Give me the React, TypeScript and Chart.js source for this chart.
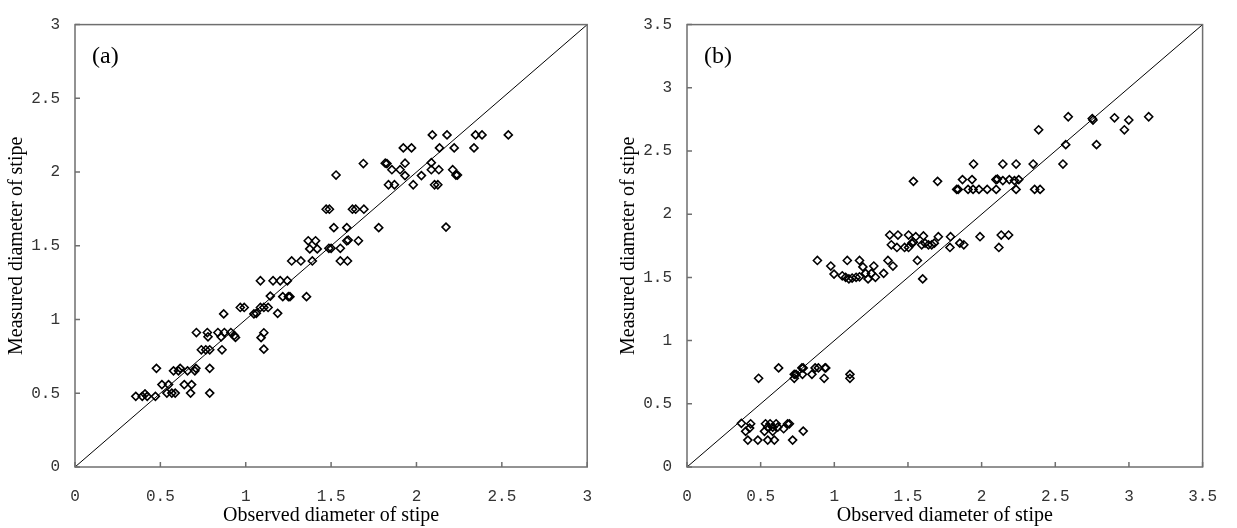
import React, { useEffect, useRef } from 'react';
import { Chart, registerables } from 'chart.js';

Chart.register(...registerables);

// Panel (a)
const observedA = [
  0.356, 0.394, 0.41, 0.423, 0.471, 0.477, 0.509, 0.548, 0.538, 0.567, 0.587, 0.577, 0.606, 0.616, 0.64, 0.659,
  0.683, 0.677, 0.702, 0.708, 0.789, 0.789, 0.711, 0.775, 0.779, 0.74, 0.766, 0.789, 0.837, 0.856, 0.875, 0.913,
  0.861, 0.933, 0.94, 0.871, 0.968, 0.991, 1.048, 1.471, 1.49, 1.625, 1.644, 1.692, 1.516, 1.592, 1.779, 1.366,
  1.409, 1.375, 1.419, 1.487, 1.5, 1.554, 1.592, 1.6, 1.66, 1.269, 1.323, 1.39, 1.554, 1.596, 1.086, 1.16,
  1.202, 1.244, 1.144, 1.217, 1.25, 1.259, 1.356, 1.062, 1.086, 1.106, 1.131, 1.187, 1.106, 1.09, 1.106, 2.093,
  2.179, 2.346, 2.384, 2.538, 1.923, 1.971, 2.135, 2.221, 2.337, 1.817, 1.827, 1.933, 2.087, 1.856, 1.904, 1.933,
  2.029, 2.087, 2.131, 2.212, 2.231, 2.24, 1.836, 1.871, 1.981, 2.106, 2.125, 2.173, 1.689, 1.529,
];
const measuredA = [
  0.479, 0.479, 0.495, 0.479, 0.479, 0.669, 0.559, 0.559, 0.501, 0.501, 0.501, 0.652, 0.652, 0.669, 0.559, 0.652,
  0.559, 0.501, 0.652, 0.669, 0.669, 0.501, 0.912, 0.912, 0.883, 0.795, 0.795, 0.795, 0.912, 0.883, 0.912, 0.912,
  0.795, 0.892, 0.879, 1.038, 1.082, 1.082, 1.038, 1.748, 1.748, 1.748, 1.748, 1.748, 1.623, 1.623, 1.623, 1.534,
  1.534, 1.479, 1.479, 1.483, 1.483, 1.483, 1.534, 1.539, 1.534, 1.397, 1.397, 1.397, 1.397, 1.397, 1.263, 1.263,
  1.263, 1.263, 1.159, 1.155, 1.155, 1.155, 1.155, 1.042, 1.082, 1.082, 1.082, 1.042, 0.91, 0.877, 0.799, 2.252,
  2.252, 2.252, 2.252, 2.252, 2.164, 2.164, 2.164, 2.164, 2.164, 2.06, 2.058, 2.06, 2.064, 2.016, 2.016, 1.976,
  1.976, 2.016, 2.016, 2.016, 1.98, 1.98, 1.914, 1.914, 1.914, 1.914, 1.914, 1.627, 2.058, 1.98,
];

// Panel (b)
const observedB = [
  0.622, 0.486, 0.728, 0.74, 0.728, 0.78, 0.789, 0.784, 0.848, 0.87, 0.892, 0.937, 0.942, 0.931, 1.106, 1.106,
  0.369, 0.432, 0.425, 0.398, 0.413, 0.481, 0.526, 0.533, 0.548, 0.564, 0.582, 0.605, 0.616, 0.548, 0.593, 0.582,
  0.656, 0.683, 0.695, 0.717, 0.789, 1.376, 1.432, 1.504, 1.553, 1.605, 1.706, 1.789, 1.989, 2.133, 2.183, 1.387,
  1.425, 1.477, 1.504, 1.526, 1.537, 1.593, 1.616, 1.639, 1.661, 1.679, 1.785, 1.852, 1.879, 2.117, 0.885, 1.088,
  1.171, 0.976, 1.194, 0.998, 1.054, 1.077, 1.099, 1.121, 1.148, 1.171, 1.212, 1.229, 1.252, 1.268, 1.279, 1.335,
  1.364, 1.398, 1.564, 1.6, 2.571, 2.78, 1.945, 2.144, 2.234, 2.35, 2.552, 1.87, 1.935, 2.097, 2.107, 2.144,
  2.188, 2.223, 2.252, 1.841, 1.831, 1.908, 1.942, 1.982, 2.038, 2.099, 2.234, 2.36, 2.397, 1.537, 1.701, 2.588,
  2.751, 2.756, 2.902, 2.999, 3.134, 2.969, 2.387,
];
const measuredB = [
  0.784, 0.702, 0.733, 0.733, 0.702, 0.784, 0.784, 0.733, 0.733, 0.784, 0.784, 0.784, 0.784, 0.702, 0.733, 0.702,
  0.346, 0.342, 0.308, 0.282, 0.213, 0.213, 0.282, 0.342, 0.315, 0.342, 0.315, 0.342, 0.315, 0.213, 0.213, 0.282,
  0.303, 0.342, 0.342, 0.213, 0.284, 1.835, 1.835, 1.835, 1.822, 1.828, 1.822, 1.822, 1.822, 1.835, 1.835, 1.758,
  1.737, 1.737, 1.737, 1.771, 1.779, 1.758, 1.771, 1.758, 1.758, 1.771, 1.737, 1.771, 1.758, 1.737, 1.634, 1.634,
  1.634, 1.59, 1.583, 1.526, 1.513, 1.501, 1.488, 1.495, 1.501, 1.505, 1.532, 1.488, 1.532, 1.59, 1.501, 1.532,
  1.634, 1.59, 1.634, 1.488, 2.55, 2.55, 2.397, 2.397, 2.397, 2.397, 2.397, 2.274, 2.274, 2.274, 2.278, 2.266,
  2.274, 2.266, 2.274, 2.196, 2.196, 2.196, 2.196, 2.196, 2.196, 2.196, 2.196, 2.196, 2.196, 2.26, 2.26, 2.771,
  2.757, 2.745, 2.763, 2.745, 2.771, 2.668, 2.668,
];

const ticksA = [0, 0.5, 1, 1.5, 2, 2.5, 3];
const ticksB = [0, 0.5, 1, 1.5, 2, 2.5, 3, 3.5];
const tickLabelsA = ['0', '0.5', '1', '1.5', '2', '2.5', '3'];
const tickLabelsB = ['0', '0.5', '1', '1.5', '2', '2.5', '3', '3.5'];
const xTitle = 'Observed diameter of stipe';
const yTitle = 'Measured diameter of stipe';
const panelLabelA = '(a)';
const panelLabelB = '(b)';

const framePlugin = {
  id: 'frame',
  afterDatasetsDraw(chart: any, _args: any, opts: any) {
    const { ctx, chartArea } = chart;
    const { left, right, top, bottom } = chartArea;
    const xs = chart.scales.x;
    const ys = chart.scales.y;
    ctx.save();
    ctx.strokeStyle = '#6f6f6f';
    ctx.lineWidth = 1.5;
    ctx.strokeRect(left, top, right - left, bottom - top);
    ctx.beginPath();
    xs.ticks.forEach((t: any) => {
      const px = xs.getPixelForValue(t.value);
      ctx.moveTo(px, bottom);
      ctx.lineTo(px, bottom - 5);
    });
    ys.ticks.forEach((t: any) => {
      const py = ys.getPixelForValue(t.value);
      ctx.moveTo(left, py);
      ctx.lineTo(left + 5, py);
    });
    ctx.stroke();
    ctx.fillStyle = '#000';
    ctx.font = '24px "Liberation Serif", serif';
    ctx.textBaseline = 'middle';
    ctx.textAlign = 'left';
    ctx.fillText(opts.label, left + 17, top + 32);
    ctx.restore();
  },
};

function build(
  canvas: HTMLCanvasElement,
  obs: number[],
  meas: number[],
  ticks: number[],
  labels: string[],
  label: string,
  padRight: number
) {
  const max = ticks[ticks.length - 1];
  const points = obs.map((x, i) => ({ x, y: meas[i] }));
  const tickFont = { family: '"Liberation Mono", monospace', size: 16 };
  const titleFont = { family: '"Liberation Serif", serif', size: 20 };
  const fmt = (v: any) => {
    const i = ticks.indexOf(Number(v));
    return i >= 0 ? labels[i] : '';
  };
  return new Chart(canvas, {
    type: 'scatter',
    data: {
      datasets: [
        {
          data: [
            { x: 0, y: 0 },
            { x: max, y: max },
          ],
          showLine: true,
          borderColor: '#000',
          borderWidth: 1,
          pointRadius: 0,
          fill: false,
        } as any,
        {
          data: points,
          pointStyle: 'rectRot',
          pointRadius: 4,
          pointBorderWidth: 1.6,
          borderColor: '#000',
          backgroundColor: 'rgba(0,0,0,0)',
          pointBackgroundColor: 'rgba(0,0,0,0)',
          pointBorderColor: '#000',
        } as any,
      ],
    },
    options: {
      animation: false,
      responsive: false,
      devicePixelRatio: 1,
      layout: { padding: { top: 14, right: padRight, bottom: 0, left: 0 } },
      plugins: {
        legend: { display: false },
        tooltip: { enabled: false },
        frame: { label },
      } as any,
      scales: {
        x: {
          type: 'linear',
          min: 0,
          max,
          afterBuildTicks: (s: any) => {
            s.ticks = ticks.map((v) => ({ value: v }));
          },
          afterFit: (s: any) => {
            s.height = 61;
          },
          grid: { display: false, drawTicks: false },
          border: { display: false },
          ticks: { padding: 20, font: tickFont, color: '#333', maxRotation: 0, autoSkip: false, callback: fmt },
          title: { display: true, text: xTitle, font: titleFont, color: '#000', padding: { top: 0, bottom: 0 } },
        },
        y: {
          type: 'linear',
          min: 0,
          max,
          afterBuildTicks: (s: any) => {
            s.ticks = ticks.map((v) => ({ value: v }));
          },
          afterFit: (s: any) => {
            s.width = 75;
          },
          grid: { display: false, drawTicks: false },
          border: { display: false },
          ticks: { padding: 15, font: tickFont, color: '#333', autoSkip: false, callback: fmt },
          title: { display: true, text: yTitle, font: titleFont, color: '#000', padding: { top: 5, bottom: 0 } },
        },
      },
    } as any,
    plugins: [framePlugin],
  });
}

export default function App() {
  const refA = useRef<HTMLCanvasElement>(null);
  const refB = useRef<HTMLCanvasElement>(null);
  useEffect(() => {
    const a = build(refA.current!, observedA, measuredA, ticksA, tickLabelsA, panelLabelA, 17);
    const b = build(refB.current!, observedB, measuredB, ticksB, tickLabelsB, panelLabelB, 31);
    return () => {
      a.destroy();
      b.destroy();
    };
  }, []);
  return (
    <div style={{ position: 'absolute', left: 0, top: 0, width: 1237, height: 528, background: '#fff', overflow: 'hidden' }}>
      <canvas ref={refA} width={612} height={528} style={{ position: 'absolute', left: 0, top: 0, width: 612, height: 528 }} />
      <canvas ref={refB} width={625} height={528} style={{ position: 'absolute', left: 612, top: 0, width: 625, height: 528 }} />
    </div>
  );
}
